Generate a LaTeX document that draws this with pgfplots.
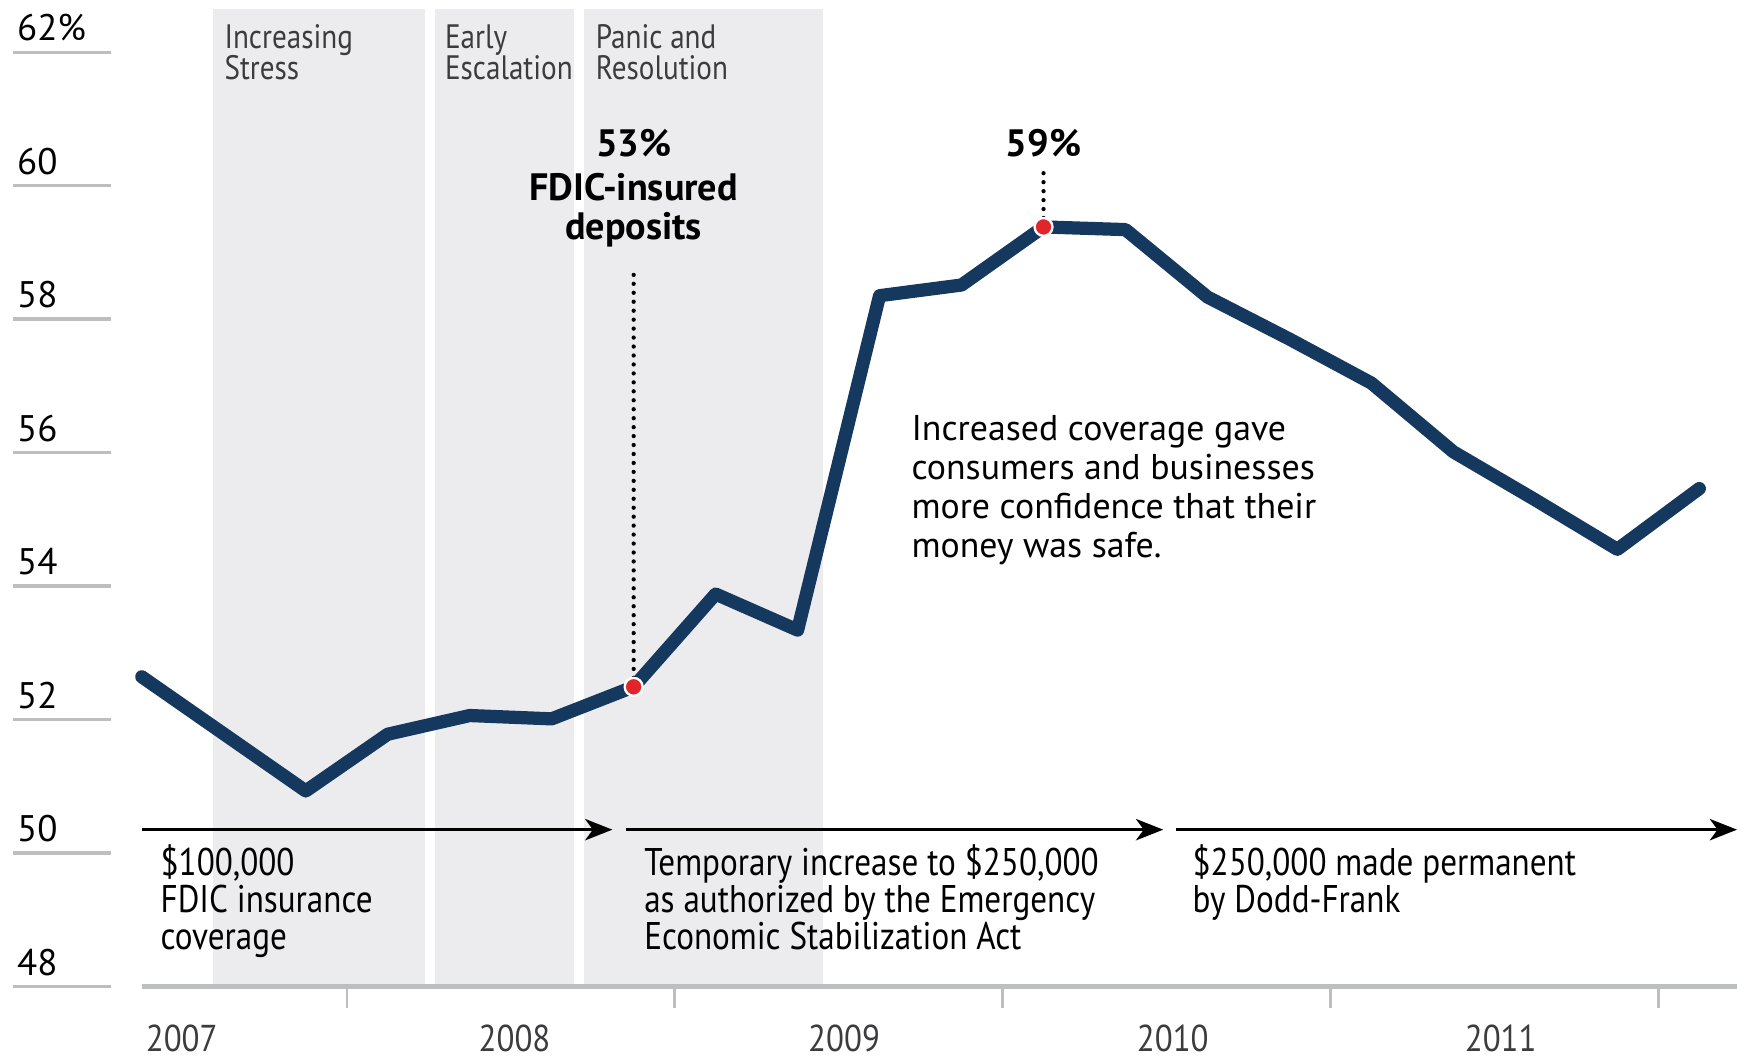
\documentclass[border=0pt]{standalone}
\usepackage{pgfplots}
\pgfplotsset{compat=1.18}
\usepackage{fontspec}
\setmainfont{PT Sans}
\newfontfamily\cond[FakeStretch=0.86]{PT Sans}
\newfontfamily\light[FakeStretch=0.88]{PT Sans}
\newfontfamily\phase[FakeStretch=0.86]{PT Sans}
\usetikzlibrary{arrows.meta}
\definecolor{navy}{HTML}{15385F}
\definecolor{phasegray}{HTML}{ECECEE}
\definecolor{gridgray}{HTML}{BCBEC0}
\definecolor{dotred}{HTML}{E2252B}
\definecolor{txt}{HTML}{231F20}
\definecolor{lighttxt}{HTML}{3C3C3E}
\newcommand\tight{\lineskiplimit=-10pt\relax}

\begin{document}
\begin{tikzpicture}[font=\color{txt},
  ylab/.style={anchor=base west, inner sep=0pt, font=\fontsize{9.5}{10}\selectfont},
  stub/.style={gridgray, line width=0.8pt},
  yr/.style={anchor=base west, inner sep=0pt, font=\light\fontsize{9.6}{10}\selectfont\color{lighttxt}},
]
\begin{axis}[
  width=15.68cm, height=9.55cm, scale only axis,
  xmin=-1.73, xmax=19.46, ymin=46.93, ymax=62.78,
  hide axis, clip=false,
]
% phases of the crisis
\fill[phasegray] (axis cs:0.865,48) rectangle (axis cs:3.46,62.65);
\fill[phasegray] (axis cs:3.58,48) rectangle (axis cs:5.27,62.65);
\fill[phasegray] (axis cs:5.39,48) rectangle (axis cs:8.31,62.65);
\begin{scope}[every node/.style={anchor=north west, inner sep=0pt, align=left,
    font=\phase\fontsize{8.7}{8}\selectfont\tight\color{lighttxt}}]
  \node at (axis cs:1.0,62.42) {Increasing\\Stress};
  \node at (axis cs:3.69,62.42) {Early\\Escalation};
  \node at (axis cs:5.53,62.42) {Panic and\\Resolution};
\end{scope}

% y grid stubs and labels
\draw[stub] (axis cs:-1.567,48) -- (axis cs:-0.378,48);
\draw[stub] (axis cs:-1.567,50) -- (axis cs:-0.378,50);
\draw[stub] (axis cs:-1.567,52) -- (axis cs:-0.378,52);
\draw[stub] (axis cs:-1.567,54) -- (axis cs:-0.378,54);
\draw[stub] (axis cs:-1.567,56) -- (axis cs:-0.378,56);
\draw[stub] (axis cs:-1.567,58) -- (axis cs:-0.378,58);
\draw[stub] (axis cs:-1.567,60) -- (axis cs:-0.378,60);
\draw[stub] (axis cs:-1.567,62) -- (axis cs:-0.378,62);
\node[ylab] at (axis cs:-1.53,48.17) {48};
\node[ylab] at (axis cs:-1.53,50.17) {50};
\node[ylab] at (axis cs:-1.53,52.17) {52};
\node[ylab] at (axis cs:-1.53,54.17) {54};
\node[ylab] at (axis cs:-1.53,56.17) {56};
\node[ylab] at (axis cs:-1.53,58.17) {58};
\node[ylab] at (axis cs:-1.53,60.17) {60};
\node[ylab] at (axis cs:-1.53,62.17) {62\%};

% x axis
\draw[gridgray, line width=1.1pt] (axis cs:0,48) -- (axis cs:19.46,48);
\draw[gridgray, line width=0.6pt] (axis cs:2.5,48) -- (axis cs:2.5,47.68);
\draw[gridgray, line width=0.6pt] (axis cs:6.5,48) -- (axis cs:6.5,47.68);
\draw[gridgray, line width=0.6pt] (axis cs:10.5,48) -- (axis cs:10.5,47.68);
\draw[gridgray, line width=0.6pt] (axis cs:14.5,48) -- (axis cs:14.5,47.68);
\draw[gridgray, line width=0.6pt] (axis cs:18.5,48) -- (axis cs:18.5,47.68);
\node[yr] at (axis cs:0.04,47.03) {2007};
\node[yr] at (axis cs:4.1,47.03) {2008};
\node[yr] at (axis cs:8.12,47.03) {2009};
\node[yr] at (axis cs:12.13,47.03) {2010};
\node[yr] at (axis cs:16.13,47.03) {2011};

% coverage arrows
\begin{scope}[line width=0.7pt, -{Stealth[length=7pt, width=5.5pt, inset=2pt]}]
  \draw (axis cs:0,50.35) -- (axis cs:5.74,50.35);
  \draw (axis cs:5.91,50.35) -- (axis cs:12.46,50.35);
  \draw (axis cs:12.61,50.35) -- (axis cs:19.46,50.35);
\end{scope}
\begin{scope}[every node/.style={anchor=north west, inner sep=0pt, align=left,
    font=\cond\fontsize{9.9}{9.4}\selectfont\tight}]
  \node at (axis cs:0.22,50.13) {\$100,000\\FDIC insurance\\coverage};
  \node at (axis cs:6.12,50.13) {Temporary increase to \$250,000\\as authorized by the Emergency\\Economic Stabilization Act};
  \node at (axis cs:12.81,50.13) {\$250,000 made permanent\\by Dodd-Frank};
\end{scope}

% annotation
\node[anchor=north west, inner sep=0pt, align=left, font=\fontsize{9.2}{10.05}\selectfont]
  at (axis cs:9.38,56.57) {Increased coverage gave\\consumers and businesses\\more confidence that their\\money was safe.};

% share of FDIC-insured deposits
\addplot[navy, line width=3.4pt, line join=round, line cap=round] coordinates {
  (0,52.64) (2,50.93) (3,51.78) (4,52.06) (5,52.01) (6,52.49) (7,53.88)
  (8,53.34) (9,58.35) (10,58.51) (11,59.38) (12,59.34) (13,58.33) (14,57.70)
  (15,57.04) (16,56.01) (17,55.29) (18,54.55) (19,55.46)
};

% callouts
\draw[line width=1.1pt, line cap=round, dash pattern=on 0pt off 2.3pt] (axis cs:6,52.49) -- (axis cs:6,58.75);
\draw[line width=1.1pt, line cap=round, dash pattern=on 0pt off 2.3pt] (axis cs:11,59.38) -- (axis cs:11,60.2);
\addplot[only marks, mark=*, mark size=2.3pt, mark options={fill=dotred, draw=white, line width=0.6pt}]
  coordinates {(6,52.49) (11,59.38)};
\begin{scope}[every node/.style={anchor=base, inner sep=0pt, font=\bfseries\fontsize{9.8}{10}\selectfont}]
  \node at (axis cs:6,60.44) {53\%};
  \node at (axis cs:6,59.78) {FDIC-insured};
  \node at (axis cs:6,59.19) {deposits};
  \node at (axis cs:11,60.44) {59\%};
\end{scope}
\end{axis}
\pgfresetboundingbox
\path (0,0) rectangle (15.68cm,9.55cm);
\end{tikzpicture}
\end{document}
